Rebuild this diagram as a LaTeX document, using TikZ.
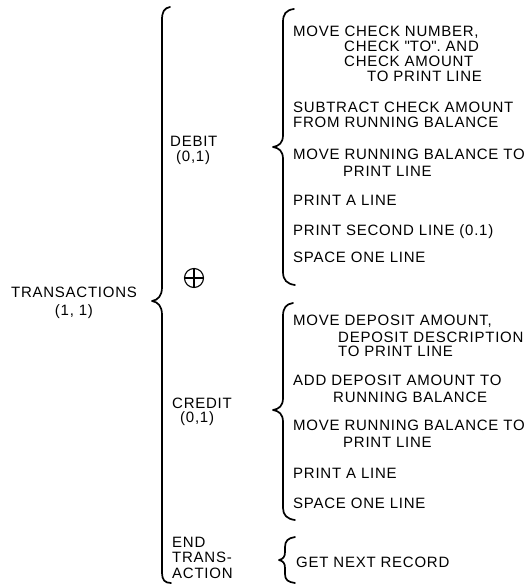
\documentclass[tikz,border=0pt]{standalone}
\usepackage{fontspec}
\setmainfont{Liberation Sans}[LetterSpace=5]
\begin{document}
\begin{tikzpicture}[x=1pt,y=-1pt,
  brace/.style={line width=1.7pt, line cap=round, line join=round},
  txt/.style={anchor=base west, inner sep=0pt, font=\fontsize{15}{16}\selectfont},
  ctxt/.style={anchor=base, inner sep=0pt, font=\fontsize{15}{16}\selectfont}]
\useasboundingbox (0,0) rectangle (527,585);
% root
\node[ctxt] (trans) at (74,297) {TRANSACTIONS};
\node[ctxt] (transn) at (74,315) {(1, 1)};
% second level
\node[txt] (debit) at (170,147) {DEBIT};
\node[txt] (debitn) at (176,162) {(0,1)};
\node[txt] (credit) at (172,408) {CREDIT};
\node[txt] (creditn) at (180,422) {(0,1)};
\node[txt] (end1) at (172,547) {END};
\node[txt] (end2) at (172,562) {TRANS-};
\node[txt] (end3) at (172,578) {ACTION};
\node[circle, draw, line width=1.1pt, minimum size=19pt, inner sep=0pt] (xor) at (194,278) {};
\draw[line width=1.1pt] (xor.north) -- (xor.south) (xor.west) -- (xor.east);
% debit items
\node[txt] (d1a) at (293,37) {MOVE CHECK NUMBER,};
\node[txt] (d1b) at (344,52) {CHECK \textquotedbl TO\textquotedbl. AND};
\node[txt] (d1c) at (344,67) {CHECK AMOUNT};
\node[txt] (d1d) at (367,82) {TO PRINT LINE};
\node[txt] (d2a) at (293,113) {SUBTRACT CHECK AMOUNT};
\node[txt] (d2b) at (293,128) {FROM RUNNING BALANCE};
\node[txt] (d3a) at (293,160) {MOVE RUNNING BALANCE TO};
\node[txt] (d3b) at (343,177) {PRINT LINE};
\node[txt] (d4) at (293,205) {PRINT A LINE};
\node[txt] (d5) at (293,235) {PRINT SECOND LINE (0.1)};
\node[txt] (d6) at (293,262) {SPACE ONE LINE};
% credit items
\node[txt] (c1a) at (293,325) {MOVE DEPOSIT AMOUNT,};
\node[txt] (c1b) at (338,342) {DEPOSIT DESCRIPTION};
\node[txt] (c1c) at (338,356) {TO PRINT LINE};
\node[txt] (c2a) at (293,385) {ADD DEPOSIT AMOUNT TO};
\node[txt] (c2b) at (333,402) {RUNNING BALANCE};
\node[txt] (c3a) at (293,430) {MOVE RUNNING BALANCE TO};
\node[txt] (c3b) at (343,447) {PRINT LINE};
\node[txt] (c4) at (293,478) {PRINT A LINE};
\node[txt] (c5) at (293,508) {SPACE ONE LINE};
% end item
\node[txt] (e1) at (296,567) {GET NEXT RECORD};
% brace coordinates
\coordinate (bt) at (170,7);
\coordinate (btip) at (152,301);
\coordinate (bb) at (171,583);
\coordinate (dt) at (294,9);
\coordinate (dtip) at (273,147);
\coordinate (db) at (295,285);
\coordinate (ct) at (293,303);
\coordinate (ctip) at (273,410);
\coordinate (cb) at (295,520);
\coordinate (et) at (295,537);
\coordinate (etip) at (279,560);
\coordinate (eb) at (295,583);
% braces
\draw[brace] (bt) .. controls (164,8) and (162,12) .. (162,20) -- (162,287)
  .. controls (162,296) and (158,300) .. (btip)
  .. controls (158,302) and (162,306) .. (162,315) -- (162,573)
  .. controls (162,580) and (165,583) .. (bb);
\draw[brace] (dt) .. controls (286,10) and (283,14) .. (283,22) -- (283,135)
  .. controls (283,143) and (279,146) .. (dtip)
  .. controls (279,148) and (283,151) .. (283,159) -- (283,272)
  .. controls (283,280) and (287,284) .. (db);
\draw[brace] (ct) .. controls (286,304) and (283,308) .. (283,316) -- (283,398)
  .. controls (283,406) and (279,409) .. (ctip)
  .. controls (279,411) and (283,414) .. (283,422) -- (283,508)
  .. controls (283,515) and (287,519) .. (cb);
\draw[brace] (et) .. controls (288,538) and (285,541) .. (285,547) -- (285,552)
  .. controls (285,557) and (283,559) .. (etip)
  .. controls (283,561) and (285,563) .. (285,568) -- (285,574)
  .. controls (285,580) and (288,582) .. (eb);
\end{tikzpicture}
\end{document}
